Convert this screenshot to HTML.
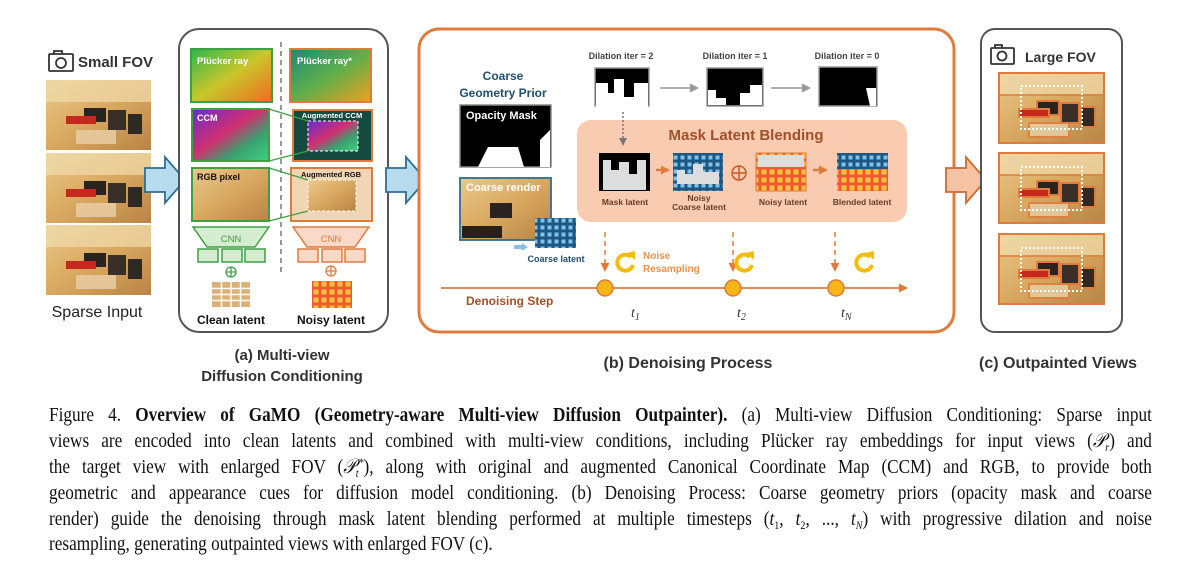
<!DOCTYPE html>
<html><head><meta charset="utf-8"><style>
body{margin:0;background:#fff;width:1200px;height:583px;overflow:hidden;position:relative;font-family:"Liberation Sans",sans-serif}
svg{position:absolute;left:0;top:0}
.cap{position:absolute;left:49px;width:1313px;transform:scaleX(0.84);transform-origin:0 0;font-family:"Liberation Serif",serif;font-size:20.5px;color:#111;text-align:justify;text-align-last:justify;white-space:nowrap;line-height:22px;height:22px}
.cap.l{text-align-last:left}
.cap sub,.cap sup{font-size:12px;line-height:0;vertical-align:baseline;position:relative}
.cap sub{top:4px}.cap sup{top:-7px}
</style></head><body>
<svg width="1200" height="400" viewBox="0 0 1200 400" font-family="Liberation Sans, sans-serif">
<defs>
<linearGradient id="room" x1="0" y1="0" x2="1" y2="1">
<stop offset="0" stop-color="#e9c98a"/><stop offset="0.5" stop-color="#d9a860"/><stop offset="1" stop-color="#b78445"/></linearGradient>
<g id="ph">
<rect width="105" height="70" fill="url(#room)"/>
<rect x="0" y="0" width="105" height="22" fill="#f1dcae" opacity="0.7"/>
<rect x="38" y="28" width="22" height="14" fill="#2a2420"/>
<rect x="62" y="30" width="18" height="20" fill="#3a2f28"/>
<rect x="20" y="36" width="30" height="8" fill="#c6281e"/>
<rect x="82" y="34" width="14" height="20" fill="#302822"/>
<rect x="30" y="50" width="40" height="14" fill="#e8d0a8" opacity="0.8"/>
</g>
<linearGradient id="pl1" x1="0" y1="0" x2="1" y2="1"><stop offset="0" stop-color="#2bb84c"/><stop offset="0.5" stop-color="#c9c62a"/><stop offset="1" stop-color="#f06a20"/></linearGradient>
<linearGradient id="pl2" x1="0" y1="0" x2="1" y2="1"><stop offset="0" stop-color="#178a7a"/><stop offset="0.5" stop-color="#5fae4a"/><stop offset="1" stop-color="#f0a020"/></linearGradient>
<linearGradient id="ccm" x1="0" y1="0" x2="1" y2="1"><stop offset="0" stop-color="#6a2ad0"/><stop offset="0.45" stop-color="#d03070"/><stop offset="0.7" stop-color="#3aa070"/><stop offset="1" stop-color="#40d080"/></linearGradient>
<pattern id="bg" width="7" height="7" patternUnits="userSpaceOnUse"><rect width="7" height="7" fill="#1d5680"/><rect x="1.5" y="1.5" width="4" height="4" fill="#7fc4e8"/></pattern>
<pattern id="rg" width="8" height="8" patternUnits="userSpaceOnUse"><rect width="8" height="8" fill="#f05a30"/><rect x="1.5" y="1.5" width="5" height="5" fill="#f5c040"/></pattern>
<marker id="ah" markerUnits="userSpaceOnUse" markerWidth="9" markerHeight="9" refX="7" refY="4.5" orient="auto"><path d="M0,0L9,4.5L0,9z" fill="#e07b3c"/></marker>
<marker id="ag" markerUnits="userSpaceOnUse" markerWidth="9" markerHeight="9" refX="7" refY="4.5" orient="auto"><path d="M0,0L9,4.5L0,9z" fill="#999"/></marker>
<marker id="ad" markerUnits="userSpaceOnUse" markerWidth="8" markerHeight="8" refX="6" refY="4" orient="auto"><path d="M0,0L8,4L0,8z" fill="#777"/></marker>
</defs>

<g stroke="#333" stroke-width="1.8" fill="none"><rect x="49" y="54" width="24" height="17" rx="1"/><circle cx="61" cy="63" r="5"/><path d="M54,54v-3h8v3"/></g>
<text x="78" y="67" font-size="15" font-weight="bold" fill="#333">Small FOV</text>
<use href="#ph" x="46" y="80"/><use href="#ph" x="46" y="153"/><use href="#ph" x="46" y="225"/>
<text x="97" y="317" font-size="16" text-anchor="middle" fill="#222">Sparse Input</text>

<path d="M145,168h20v-11l20,23l-20,23v-11h-20z" fill="#b7dcef" stroke="#2e6f92" stroke-width="1.8"/>

<rect x="179" y="29" width="209" height="303" rx="20" fill="#fff" stroke="#555" stroke-width="2"/>
<line x1="281" y1="42" x2="281" y2="272" stroke="#777" stroke-width="1.5" stroke-dasharray="5,4"/>
<rect x="191" y="49" width="81" height="53" fill="url(#pl1)" stroke="#3da043" stroke-width="2"/>
<text x="197" y="64" font-size="9.5" font-weight="bold" fill="#fff">Plücker ray</text>
<rect x="290" y="49" width="81" height="53" fill="url(#pl2)" stroke="#e07b3c" stroke-width="2"/>
<text x="297" y="64" font-size="9.5" font-weight="bold" fill="#fff">Plücker ray*</text>
<rect x="192" y="109" width="77" height="52" fill="url(#ccm)" stroke="#3da043" stroke-width="2"/>
<text x="197" y="121" font-size="9" font-weight="bold" fill="#fff">CCM</text>
<rect x="293" y="110" width="79" height="51" fill="#144a40" stroke="#e07b3c" stroke-width="2"/>
<rect x="308" y="121" width="50" height="30" fill="url(#ccm)" stroke="#fff" stroke-dasharray="3,2"/>
<text x="332" y="118" font-size="7.5" font-weight="bold" fill="#fff" text-anchor="middle">Augmented CCM</text>
<rect x="192" y="168" width="77" height="53" fill="url(#room)" stroke="#3da043" stroke-width="2"/>
<text x="197" y="180" font-size="9" font-weight="bold" fill="#111">RGB pixel</text>
<rect x="291" y="168" width="81" height="53" fill="#f0d6b4" stroke="#e07b3c" stroke-width="2"/>
<rect x="308" y="180" width="48" height="31" fill="url(#room)" stroke="#fff" stroke-dasharray="3,2"/>
<text x="331" y="177" font-size="7.5" font-weight="bold" fill="#111" text-anchor="middle">Augmented RGB</text>
<g stroke="#3da043" stroke-width="1.2"><line x1="269" y1="109" x2="308" y2="121"/><line x1="269" y1="161" x2="308" y2="151"/><line x1="269" y1="168" x2="308" y2="180"/><line x1="269" y1="221" x2="308" y2="211"/></g>
<path d="M193,227h76l-14,20h-48z" fill="#d5ecd0" stroke="#3da043" stroke-width="1.5"/>
<text x="231" y="242" font-size="9.5" text-anchor="middle" fill="#3da043">CNN</text>
<path d="M293,227h76l-14,20h-48z" fill="#fbd9c8" stroke="#e07b3c" stroke-width="1.5"/>
<text x="331" y="242" font-size="9.5" text-anchor="middle" fill="#e07b3c">CNN</text>
<g fill="#d5ecd0" stroke="#3da043" stroke-width="1.5"><rect x="198" y="249" width="20" height="13"/><rect x="222" y="249" width="20" height="13"/><rect x="245" y="249" width="20" height="13"/></g>
<g fill="#fbd9c8" stroke="#e07b3c" stroke-width="1.5"><rect x="298" y="249" width="20" height="13"/><rect x="322" y="249" width="20" height="13"/><rect x="345" y="249" width="20" height="13"/></g>
<g fill="none" stroke-width="1.3"><g stroke="#3da043"><circle cx="231" cy="272" r="5"/><path d="M226,272h10M231,267v10"/></g><g stroke="#e07b3c"><circle cx="331" cy="271" r="5"/><path d="M326,271h10M331,266v10"/></g></g>
<rect x="212" y="282" width="38" height="25" fill="#d8a868" opacity="0.9"/>
<path d="M212,288.5h38M212,294.5h38M212,300.5h38M221.5,282v25M231,282v25M240.5,282v25" stroke="#fff" stroke-width="1.5"/>
<rect x="312" y="281" width="40" height="27" fill="url(#rg)"/>
<text x="231" y="324" font-size="12" font-weight="bold" text-anchor="middle" fill="#111">Clean latent</text>
<text x="331" y="324" font-size="12" font-weight="bold" text-anchor="middle" fill="#111">Noisy latent</text>
<text x="282" y="360" font-size="15" font-weight="bold" text-anchor="middle" fill="#333">(a) Multi-view</text>
<text x="282" y="381" font-size="15" font-weight="bold" text-anchor="middle" fill="#333">Diffusion Conditioning</text>

<path d="M386,168h20v-11l20,23l-20,23v-11h-20z" fill="#b7dcef" stroke="#2e6f92" stroke-width="1.8"/>

<rect x="419" y="29" width="535" height="303" rx="20" fill="#fff" stroke="#e07b3c" stroke-width="3"/>
<text x="503" y="80" font-size="12" font-weight="bold" text-anchor="middle" fill="#1f4e6e">Coarse</text>
<text x="503" y="97" font-size="12" font-weight="bold" text-anchor="middle" fill="#1f4e6e">Geometry  Prior</text>
<rect x="460" y="105" width="91" height="62" fill="#000" stroke="#888" stroke-width="1.5"/>
<path d="M478,167l10-20h30l6,20z M540,140l10-10v37h-10z" fill="#fff"/>
<text x="466" y="119" font-size="11" font-weight="bold" fill="#fff">Opacity Mask</text>
<rect x="460" y="178" width="91" height="62" fill="url(#room)" stroke="#2e6f92" stroke-width="1.8"/>
<rect x="490" y="203" width="22" height="15" fill="#2a2420"/><rect x="462" y="226" width="40" height="12" fill="#2a2018"/>
<text x="466" y="191" font-size="11" font-weight="bold" fill="#fff">Coarse render</text>
<rect x="535" y="218" width="41" height="30" fill="url(#bg)"/>
<path d="M514,247h9" stroke="#86c0e6" stroke-width="4"/><path d="M522,243l6,4l-6,4z" fill="#86c0e6"/>
<text x="556" y="262" font-size="9" font-weight="bold" text-anchor="middle" fill="#1f4e6e">Coarse latent</text>

<g font-size="9" font-weight="bold" fill="#444" text-anchor="middle"><text x="621" y="59">Dilation iter = 2</text><text x="735" y="59">Dilation iter = 1</text><text x="847" y="59">Dilation iter = 0</text></g>
<rect x="595" y="68" width="54" height="38" fill="#000" stroke="#999" stroke-width="1.5"/>
<path d="M596,83h12v10h6v-14h10v18h10v-14h14v26h-52z" fill="#fff"/>
<rect x="707" y="68" width="56" height="38" fill="#000" stroke="#999" stroke-width="1.5"/>
<path d="M708,90h8v8h10v7h-18z M740,93h10v-8h12v20h-22z" fill="#fff"/>
<rect x="819" y="67" width="58" height="39" fill="#000" stroke="#999" stroke-width="1.5"/>
<path d="M866,88h10v18h-6z" fill="#fff"/>
<path d="M660,88h37" stroke="#999" stroke-width="1.5" marker-end="url(#ag)"/>
<path d="M771,88h38" stroke="#999" stroke-width="1.5" marker-end="url(#ag)"/>

<rect x="577" y="120" width="330" height="102" rx="14" fill="#f9cbb0"/>
<path d="M623,112v32" stroke="#777" stroke-width="1.5" stroke-dasharray="2,2" marker-end="url(#ad)"/>
<text x="746" y="140" font-size="15" font-weight="bold" text-anchor="middle" fill="#a0502a">Mask Latent Blending</text>
<rect x="599" y="153" width="51" height="38" fill="#000"/>
<path d="M603,160h8v10h8v-8h10v12h8v-14h9v30h-43z" fill="#ddd"/>
<rect x="673" y="153" width="50" height="38" fill="url(#bg)"/>
<path d="M677,170h8v4h8v-10h10v8h16v12h-42z" fill="#ddd"/>
<circle cx="739" cy="173" r="7" fill="none" stroke="#c85a25" stroke-width="1.5"/><path d="M732,173h14M739,166v14" stroke="#c85a25" stroke-width="1.5"/>
<rect x="756" y="153" width="50" height="38" fill="url(#rg)" stroke="#e07b3c"/>
<rect x="758" y="155" width="46" height="12" fill="#ddd"/>
<rect x="837" y="153" width="51" height="38" fill="url(#rg)"/>
<rect x="837" y="153" width="51" height="16" fill="url(#bg)"/>
<path d="M656,170h12" stroke="#e07b3c" stroke-width="2.5" marker-end="url(#ah)"/>
<path d="M813,170h13" stroke="#e07b3c" stroke-width="2.5" marker-end="url(#ah)"/>
<g font-size="8.5" font-weight="bold" fill="#6a3a20" text-anchor="middle"><text x="625" y="205">Mask latent</text><text x="699" y="201">Noisy</text><text x="699" y="210">Coarse latent</text><text x="783" y="205">Noisy latent</text><text x="862" y="205">Blended latent</text></g>

<path d="M441,288h465" stroke="#e07b3c" stroke-width="1.8" marker-end="url(#ah)"/>
<g stroke="#e07b3c" stroke-width="1.5" stroke-dasharray="5,4"><path d="M605,232v38" marker-end="url(#ah)"/><path d="M733,232v38" marker-end="url(#ah)"/><path d="M835,232v38" marker-end="url(#ah)"/></g>
<g fill="#f7b516" stroke="#e07b3c" stroke-width="1.5"><circle cx="605" cy="288" r="8"/><circle cx="733" cy="288" r="8"/><circle cx="836" cy="288" r="8"/></g>
<g fill="none" stroke="#f5bd0a" stroke-width="4"><path d="M631,257a8,8 0 1 0 2,8"/><path d="M750,257a8,8 0 1 0 2,8"/><path d="M870,257a8,8 0 1 0 2,8"/></g>
<g fill="#f5bd0a"><path d="M627,253l8,-2l0,9z"/><path d="M746,253l8,-2l0,9z"/><path d="M866,253l8,-2l0,9z"/></g>
<text x="643" y="259" font-size="10" font-weight="bold" fill="#e8914d">Noise</text>
<text x="643" y="272" font-size="10" font-weight="bold" fill="#e8914d">Resampling</text>
<text x="466" y="305" font-size="12" font-weight="bold" fill="#a0502a">Denoising Step</text>
<g font-family="Liberation Serif, serif" font-style="italic" font-size="14" fill="#333"><text x="631" y="317">t<tspan font-size="10" dy="3">1</tspan></text><text x="737" y="317">t<tspan font-size="10" dy="3">2</tspan></text><text x="841" y="317">t<tspan font-size="10" dy="3">N</tspan></text></g>
<text x="688" y="368" font-size="16" font-weight="bold" text-anchor="middle" fill="#333">(b) Denoising Process</text>

<path d="M946,168h20v-11l20,23l-20,23v-11h-20z" fill="#f6c2a4" stroke="#d06a30" stroke-width="1.8"/>

<rect x="981" y="29" width="141" height="303" rx="14" fill="#fff" stroke="#555" stroke-width="2"/>
<g stroke="#333" stroke-width="1.8" fill="none"><rect x="991" y="48" width="23" height="16" rx="1"/><circle cx="1002" cy="56" r="4.5"/><path d="M995,48v-3h7v3"/></g>
<text x="1025" y="62" font-size="14" font-weight="bold" fill="#333">Large FOV</text>
<g stroke="#e07b3c" stroke-width="2"><use href="#ph" x="999" y="73"/><rect x="999" y="73" width="105" height="70" fill="none"/><use href="#ph" x="999" y="153"/><rect x="999" y="153" width="105" height="70" fill="none"/><use href="#ph" x="999" y="234"/><rect x="999" y="234" width="105" height="70" fill="none"/></g>
<g fill="none" stroke="#fff" stroke-width="2" stroke-dasharray="2,2"><rect x="1021" y="86" width="61" height="43"/><rect x="1021" y="167" width="61" height="43"/><rect x="1021" y="248" width="61" height="43"/></g>
<text x="1058" y="368" font-size="16" font-weight="bold" text-anchor="middle" fill="#333">(c) Outpainted Views</text>
</svg>

<div class="cap" style="top:404px">Figure 4. <b>Overview of GaMO (Geometry-aware Multi-view Diffusion Outpainter).</b> (a) Multi-view Diffusion Conditioning: Sparse input</div>
<div class="cap" style="top:430px">views are encoded into clean latents and combined with multi-view conditions, including Plücker ray embeddings for input views (<i>𝒫<sub>r</sub></i>) and</div>
<div class="cap" style="top:456px">the target view with enlarged FOV (<i>𝒫<sub>t</sub><sup>*</sup></i>), along with original and augmented Canonical Coordinate Map (CCM) and RGB, to provide both</div>
<div class="cap" style="top:482px">geometric and appearance cues for diffusion model conditioning. (b) Denoising Process: Coarse geometry priors (opacity mask and coarse</div>
<div class="cap" style="top:508px">render) guide the denoising through mask latent blending performed at multiple timesteps (<i>t</i><sub>1</sub>, <i>t</i><sub>2</sub>, ..., <i>t<sub>N</sub></i>) with progressive dilation and noise</div>
<div class="cap l" style="top:533px">resampling, generating outpainted views with enlarged FOV (c).</div>
</body></html>
